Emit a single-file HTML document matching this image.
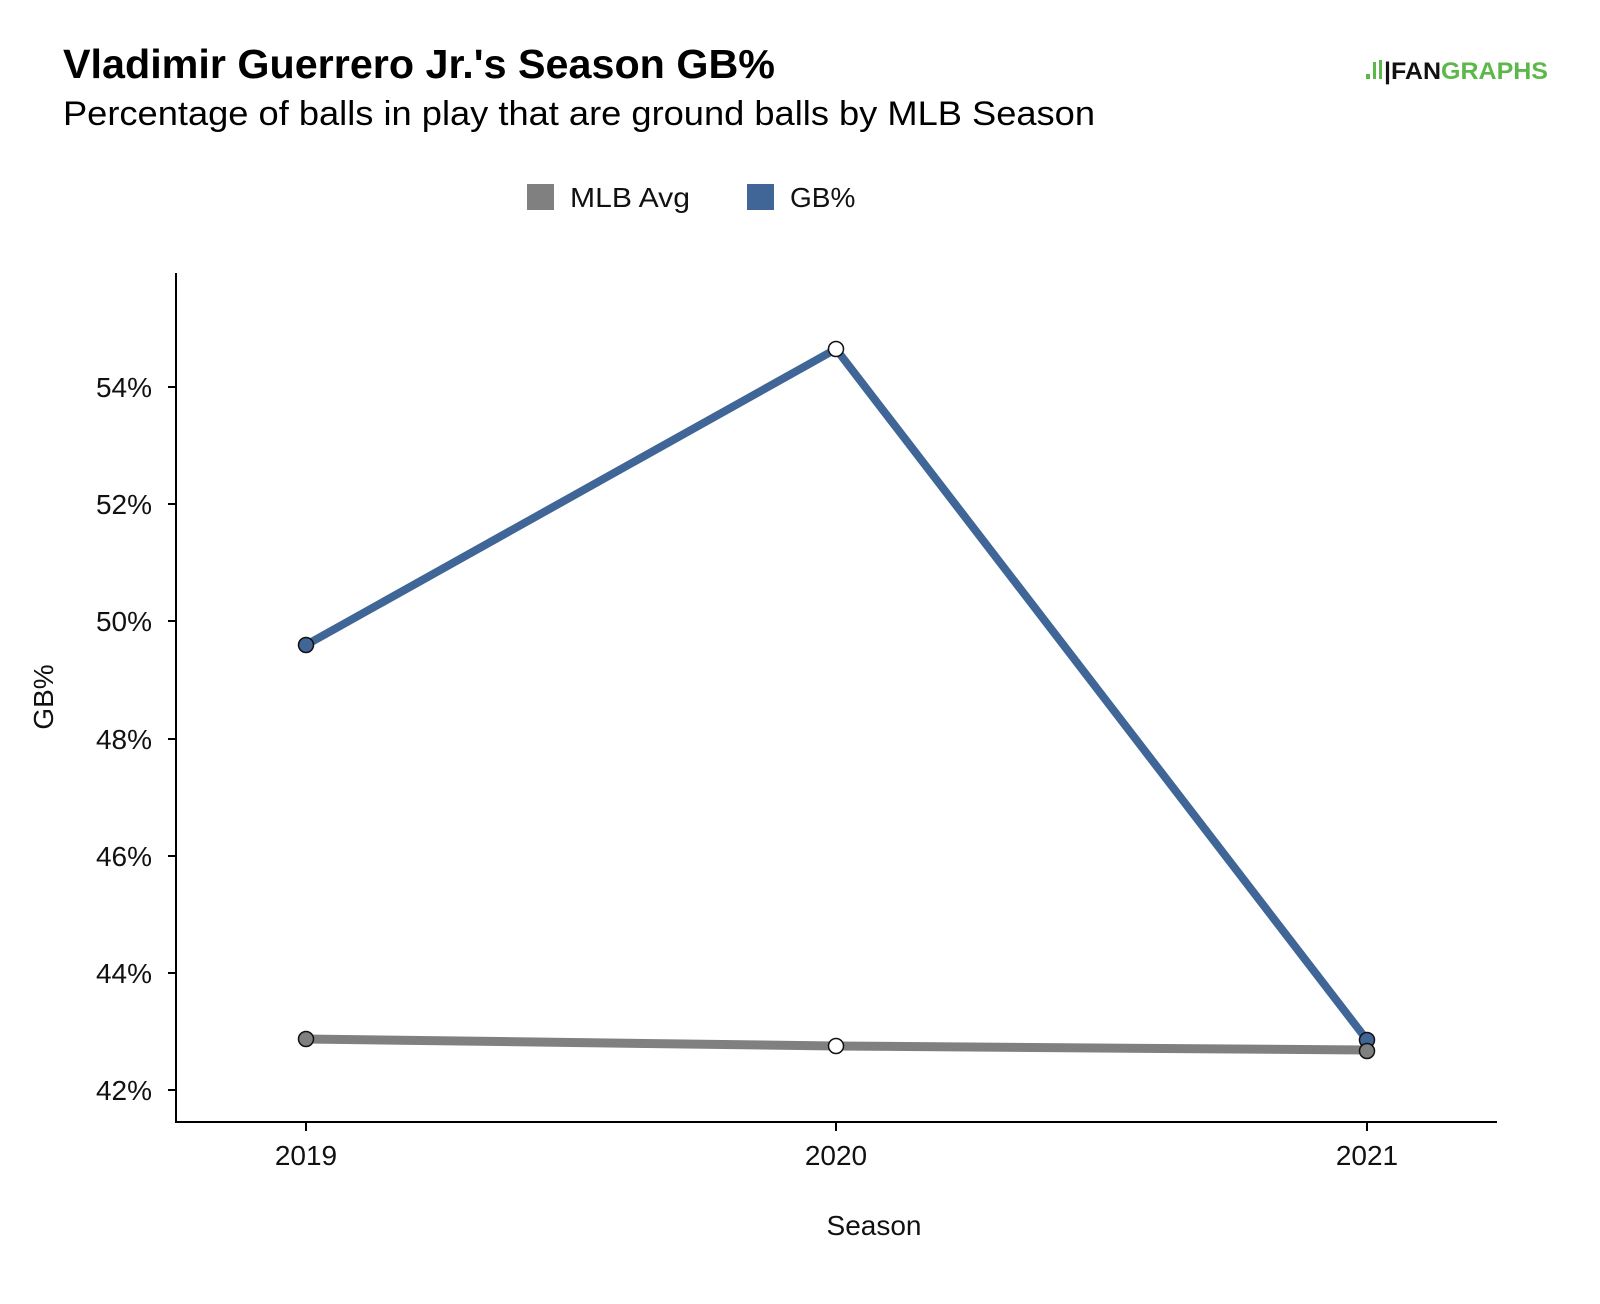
<!DOCTYPE html>
<html><head><meta charset="utf-8"><style>
html,body{margin:0;padding:0;background:#fff;}
svg text{font-family:"Liberation Sans",sans-serif;}
</style></head><body>
<svg width="1600" height="1299" viewBox="0 0 1600 1299" xmlns="http://www.w3.org/2000/svg">
<rect width="1600" height="1299" fill="#fff"/>
<text x="63" y="78" font-size="41" font-weight="bold" fill="#000" textLength="712" lengthAdjust="spacingAndGlyphs">Vladimir Guerrero Jr.'s Season GB%</text>
<text x="63" y="125" font-size="34" fill="#000" textLength="1032" lengthAdjust="spacingAndGlyphs">Percentage of balls in play that are ground balls by MLB Season</text>
<!-- logo -->
<g>
<rect x="1366" y="74" width="4" height="5" fill="#5cb84a"/>
<rect x="1373" y="62" width="3" height="17" fill="#5cb84a"/>
<rect x="1379" y="60" width="3" height="19" fill="#5cb84a"/>
<text x="1384" y="79" font-size="24" font-weight="bold" fill="#111" textLength="164" lengthAdjust="spacingAndGlyphs">|FAN<tspan fill="#5cb84a">GRAPHS</tspan></text>
</g>
<!-- legend -->
<rect x="527" y="184" width="27" height="26" fill="#808080"/>
<text x="570" y="207" font-size="28" fill="#111" textLength="120" lengthAdjust="spacingAndGlyphs">MLB Avg</text>
<rect x="747" y="184" width="27" height="26" fill="#3f6697"/>
<text x="790" y="207" font-size="28" fill="#111">GB%</text>
<!-- axes -->
<line x1="176" y1="273" x2="176" y2="1122" stroke="#000" stroke-width="2"/>
<line x1="175" y1="1122" x2="1497" y2="1122" stroke="#000" stroke-width="2"/>
<g stroke="#000" stroke-width="2">
<line x1="168" y1="387" x2="176" y2="387"/>
<line x1="168" y1="504" x2="176" y2="504"/>
<line x1="168" y1="621" x2="176" y2="621"/>
<line x1="168" y1="739" x2="176" y2="739"/>
<line x1="168" y1="856" x2="176" y2="856"/>
<line x1="168" y1="973" x2="176" y2="973"/>
<line x1="168" y1="1090" x2="176" y2="1090"/>
<line x1="306" y1="1122" x2="306" y2="1131"/>
<line x1="836" y1="1122" x2="836" y2="1131"/>
<line x1="1367" y1="1122" x2="1367" y2="1131"/>
</g>
<g font-size="28" fill="#111" text-anchor="end">
<text x="152" y="397">54%</text>
<text x="152" y="514">52%</text>
<text x="152" y="631">50%</text>
<text x="152" y="749">48%</text>
<text x="152" y="866">46%</text>
<text x="152" y="983">44%</text>
<text x="152" y="1100">42%</text>
</g>
<g font-size="28" fill="#111" text-anchor="middle">
<text x="306" y="1165">2019</text>
<text x="836" y="1165">2020</text>
<text x="1367" y="1165">2021</text>
<text x="874" y="1235">Season</text>
<text transform="translate(53,697) rotate(-90)">GB%</text>
</g>
<!-- series -->
<polyline points="306,1039 836,1046 1367,1050" fill="none" stroke="#808080" stroke-width="9"/>
<polyline points="306,645 836,349 1367,1040" fill="none" stroke="#3f6697" stroke-width="8"/>
<g stroke="#111" stroke-width="1.5">
<circle cx="306" cy="645" r="7.5" fill="#3f6697"/>
<circle cx="836" cy="349" r="7.5" fill="#fff"/>
<circle cx="1367" cy="1040" r="7.5" fill="#3f6697"/>
<circle cx="306" cy="1039" r="7.5" fill="#808080"/>
<circle cx="836" cy="1046" r="7.5" fill="#fff"/>
<circle cx="1367" cy="1051" r="7.5" fill="#808080"/>
</g>
</svg>
</body></html>
